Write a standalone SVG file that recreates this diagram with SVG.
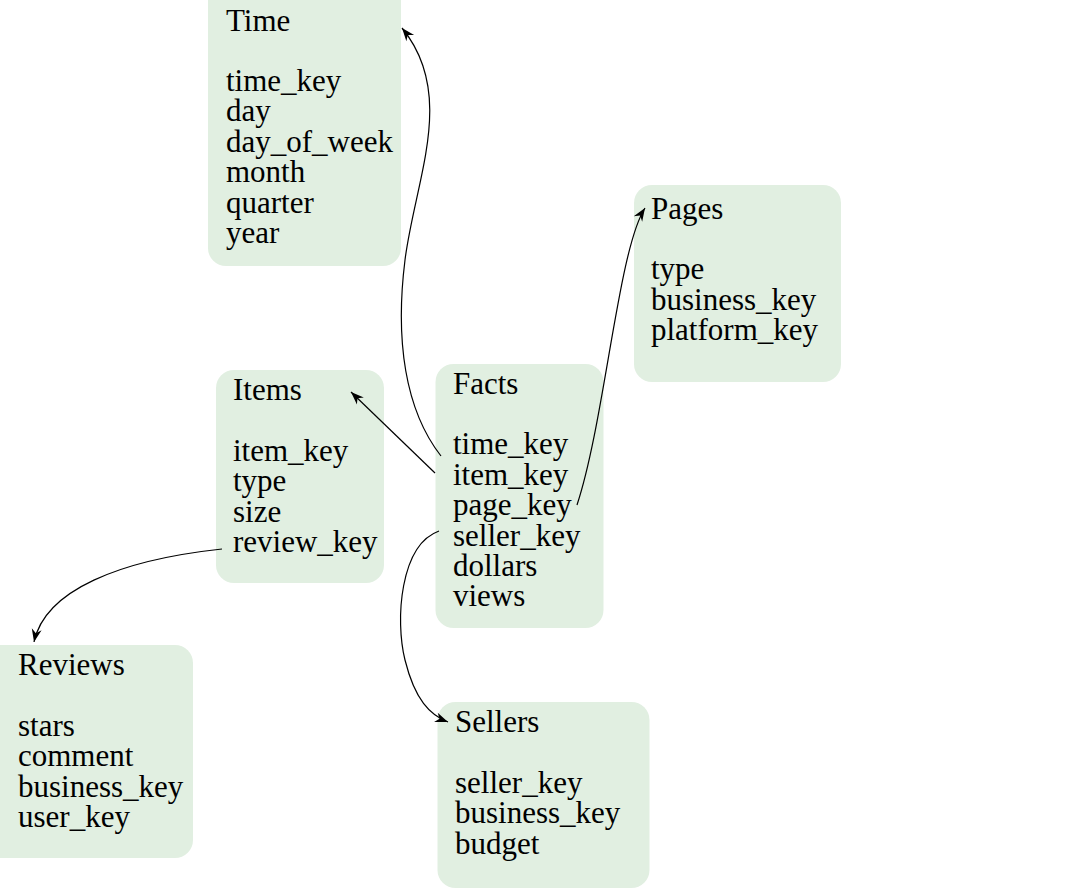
<svg xmlns="http://www.w3.org/2000/svg" width="1084" height="889" viewBox="0 0 1084 889">
<defs>
<style>
.box{fill:#e1efe1;}
.t{font-family:"Liberation Serif","Times New Roman",serif;font-size:31px;fill:#000;}
.c{fill:none;stroke:#000;stroke-width:1.2;}
</style>
<marker id="ah" viewBox="-14 -6 15 12" refX="0" refY="0" markerWidth="15" markerHeight="12" markerUnits="userSpaceOnUse" orient="auto">
<path d="M0,0 L-13,-5 L-9,0 L-13,5 Z" fill="#000"/>
</marker>
</defs>
<rect width="1084" height="889" fill="#fff"/>
<g id="time">
<rect class="box" x="208" y="-20" width="193" height="286" rx="18"/>
<text class="t" x="226" y="30.7">Time</text>
<text class="t" x="226" y="91">time_key</text>
<text class="t" x="226" y="121.4">day</text>
<text class="t" x="226" y="151.8">day_of_week</text>
<text class="t" x="226" y="182.2">month</text>
<text class="t" x="226" y="212.6">quarter</text>
<text class="t" x="226" y="243">year</text>
</g>
<g id="pages">
<rect class="box" x="634" y="185" width="207" height="197" rx="18"/>
<text class="t" x="651" y="218.5">Pages</text>
<text class="t" x="651" y="279.3">type</text>
<text class="t" x="651" y="309.7">business_key</text>
<text class="t" x="651" y="340.1">platform_key</text>
</g>
<g id="items">
<rect class="box" x="216" y="370" width="168" height="213" rx="18"/>
<text class="t" x="233" y="400">Items</text>
<text class="t" x="233" y="460.7">item_key</text>
<text class="t" x="233" y="491.1">type</text>
<text class="t" x="233" y="521.5">size</text>
<text class="t" x="233" y="551.9">review_key</text>
</g>
<g id="facts">
<rect class="box" x="435.5" y="364" width="168" height="264" rx="18"/>
<text class="t" x="453" y="393.5">Facts</text>
<text class="t" x="453" y="454.3">time_key</text>
<text class="t" x="453" y="484.7">item_key</text>
<text class="t" x="453" y="515.1">page_key</text>
<text class="t" x="453" y="545.5">seller_key</text>
<text class="t" x="453" y="575.9">dollars</text>
<text class="t" x="453" y="606.3">views</text>
</g>
<g id="reviews">
<rect class="box" x="-20" y="645" width="213" height="213" rx="18"/>
<text class="t" x="18" y="675">Reviews</text>
<text class="t" x="18" y="736">stars</text>
<text class="t" x="18" y="766.4">comment</text>
<text class="t" x="18" y="796.8">business_key</text>
<text class="t" x="18" y="827.2">user_key</text>
</g>
<g id="sellers">
<rect class="box" x="437.5" y="702" width="212" height="186" rx="18"/>
<text class="t" x="455" y="731.7">Sellers</text>
<text class="t" x="455" y="792.7">seller_key</text>
<text class="t" x="455" y="823.1">business_key</text>
<text class="t" x="455" y="853.5">budget</text>
</g>
<g id="connectors">
<path class="c" marker-end="url(#ah)" d="M441,456 C405,410 395,340 405,260 C415,180 457,95 402,28"/>
<path class="c" marker-end="url(#ah)" d="M435,473 L351,392"/>
<path class="c" marker-end="url(#ah)" d="M577,505 C605,420 618,250 645,208"/>
<path class="c" marker-end="url(#ah)" d="M439,531 C400,545 395,620 405,660 C415,700 430,715 448,722"/>
<path class="c" marker-end="url(#ah)" d="M222,549 C120,560 45,590 34,642"/>
</g>
</svg>
